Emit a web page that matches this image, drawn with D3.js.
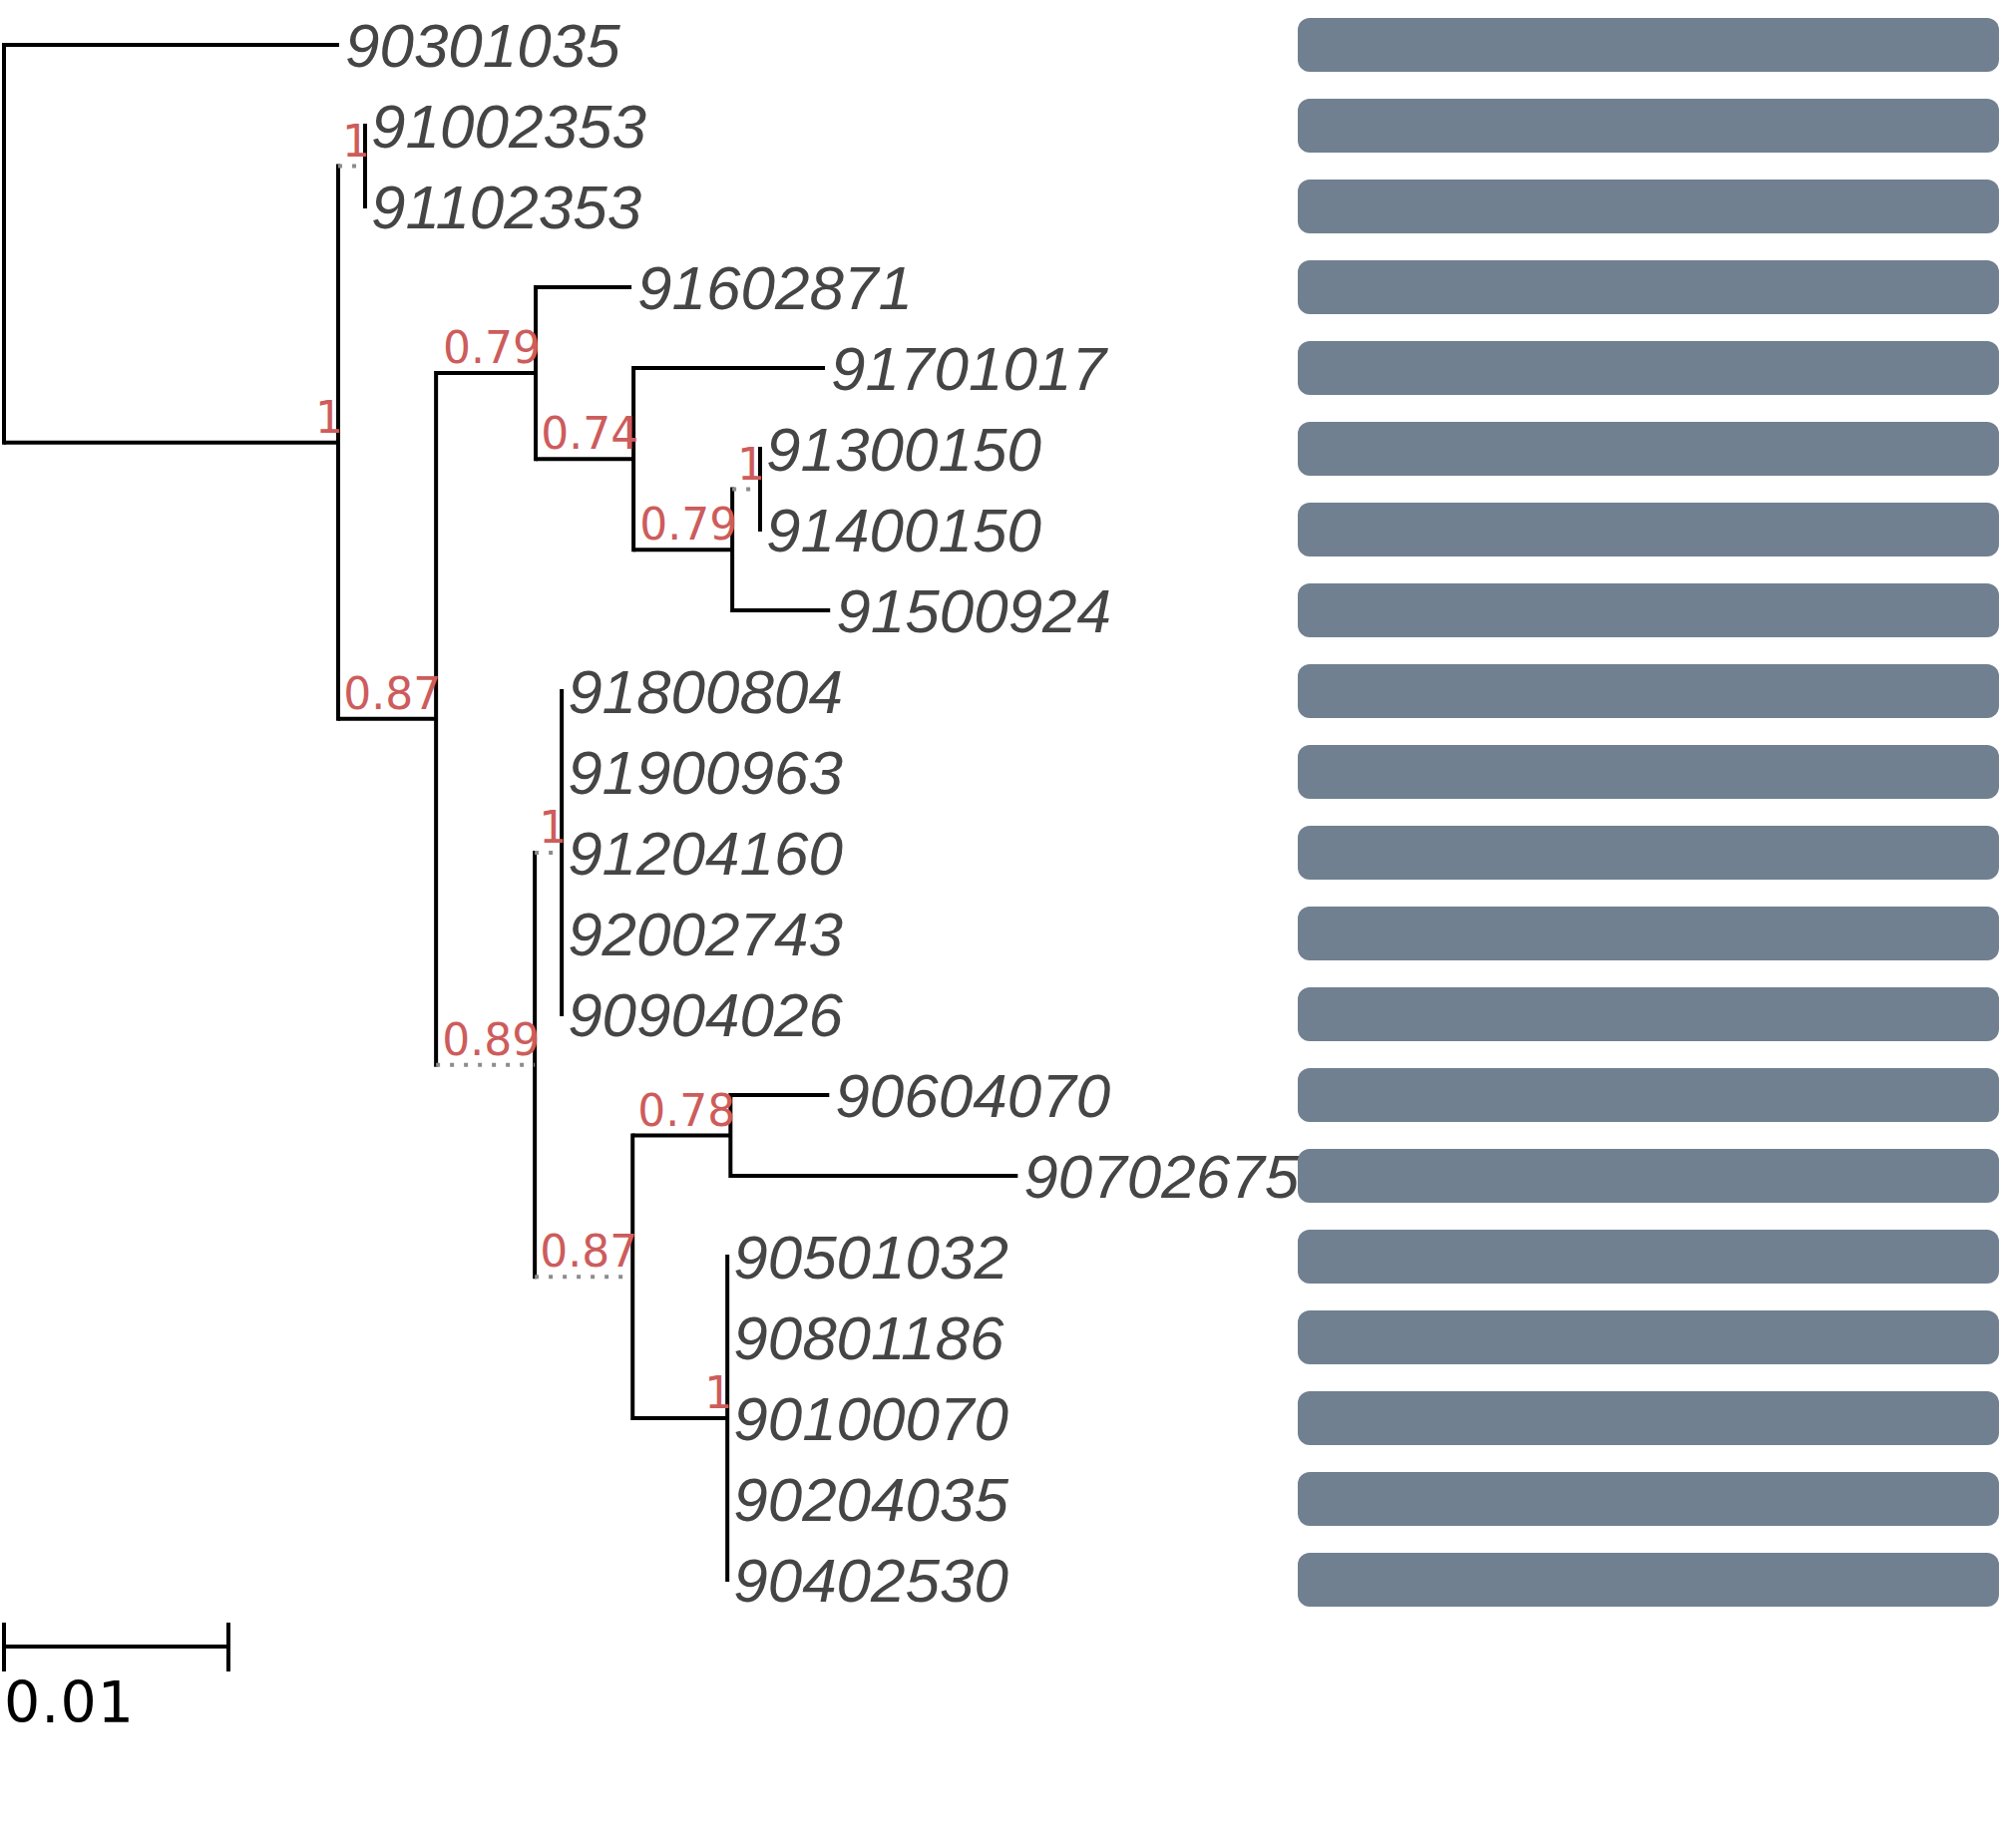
<!DOCTYPE html>
<html>
<head>
<meta charset="utf-8">
<script src="https://cdn.jsdelivr.net/npm/d3@7"></script>
<style>
  body { margin: 0; background: #fff; }
</style>
</head>
<body>
<div id="chart"></div>
<script>
// tree as parallel arrays: node id, parent id, branch length
let nodeIds = ['root', '90301035', 'A', 'B', '91002353', '91102353', 'C', 'D', '91602871', 'F',
  '91701017', 'G', 'H', '91300150', '91400150', '91500924', 'E', 'I', '91800804', '91900963',
  '91204160', '92002743', '90904026', 'J', 'K', '90604070', '90702675', 'M', '90501032',
  '90801186', '90100070', '90204035', '90402530']
let parentIds = ['', 'root', 'root', 'A', 'B', 'B', 'A', 'C', 'D', 'D',
  'F', 'F', 'G', 'H', 'H', 'G', 'C', 'E', 'I', 'I',
  'I', 'I', 'I', 'E', 'J', 'K', 'K', 'J', 'M',
  'M', 'M', 'M', 'M']
let branchLengths = [0, 0.01493, 0.01489, 0.0012, 0, 0, 0.00436, 0.00444, 0.00427, 0.00436,
  0.00853, 0.0044, 0.00124, 0, 0, 0.00436, 0.0044, 0.0012, 0, 0,
  0, 0, 0, 0.00436, 0.00436, 0.0044, 0.0128, 0.00422, 0,
  0, 0, 0, 0]

// support values on internal nodes
let supportNodes = ['A', 'B', 'C', 'D', 'F', 'G', 'H', 'E', 'I', 'J', 'K', 'M']
let supportLabels = ['1', '1', '0.87', '0.79', '0.74', '0.79', '1', '0.89', '1', '0.87', '0.78', '1']

// branches drawn dotted
let dottedNodes = ['B', 'H', 'E', 'I', 'J']

// bar panel, one value per tip
let barValues = [1, 1, 1, 1, 1, 1, 1, 1, 1, 1, 1, 1, 1, 1, 1, 1, 1, 1, 1, 1]

let scaleBarLength = 0.01
let scaleBarLabel = '0.01'

let width = 2007
let height = 1853

let svg = d3.select('#chart').append('svg')
  .attr('width', width)
  .attr('height', height)
  .style('background', '#fff')

let table = nodeIds.map((id, i) => ({id: id, parent: parentIds[i], len: branchLengths[i]}))
let root = d3.stratify().id(d => d.id).parentId(d => d.parent)(table)

// cumulative distance from root
root.eachBefore(d => { d.dist = d.parent ? d.parent.dist + d.data.len : 0 })

let leaves = root.leaves()
let leafNames = leaves.map(d => d.id)

let x = d3.scaleLinear().domain([0, 0.01]).range([4, 229])
let y = d3.scalePoint().domain(leafNames).range([45, 1584])

root.eachAfter(d => {
  if (d.children) {
    d.y = (d.children[0].y + d.children[d.children.length - 1].y) / 2
  } else {
    d.y = y(d.id)
  }
})

let treeG = svg.append('g')

// verticals
treeG.selectAll('.vline')
  .data(root.descendants().filter(d => d.children))
  .join('line')
  .attr('class', 'vline')
  .attr('x1', d => x(d.dist))
  .attr('x2', d => x(d.dist))
  .attr('y1', d => d.children[0].y - 2)
  .attr('y2', d => d.children[d.children.length - 1].y + 2)
  .attr('stroke', '#000')
  .attr('stroke-width', 4)

// horizontals
treeG.selectAll('.hline')
  .data(root.descendants().filter(d => d.parent && d.data.len > 0))
  .join('line')
  .attr('class', 'hline')
  .attr('x1', d => x(d.parent.dist))
  .attr('x2', d => x(d.dist))
  .attr('y1', d => d.y)
  .attr('y2', d => d.y)
  .attr('stroke', d => dottedNodes.includes(d.id) ? '#8c8c8c' : '#000')
  .attr('stroke-width', 4)
  .attr('stroke-dasharray', d => dottedNodes.includes(d.id) ? '4,10' : null)

// support labels
treeG.selectAll('.support')
  .data(root.descendants().filter(d => supportNodes.includes(d.id)))
  .join('text')
  .attr('class', 'support')
  .attr('x', d => x(d.dist) + 5)
  .attr('y', d => d.y - 10)
  .attr('text-anchor', 'end')
  .attr('font-family', 'DejaVu Sans')
  .attr('font-size', 44)
  .attr('fill', '#cd5c5c')
  .text(d => supportLabels[supportNodes.indexOf(d.id)])

// tip labels
treeG.selectAll('.tip')
  .data(leaves)
  .join('text')
  .attr('class', 'tip')
  .attr('x', d => x(d.dist) + 6)
  .attr('y', d => d.y)
  .attr('dy', '0.35em')
  .attr('font-family', 'Liberation Sans')
  .attr('font-style', 'italic')
  .attr('font-size', 62)
  .attr('fill', '#454545')
  .text(d => d.id)

// bars
let xBar = d3.scaleLinear().domain([0, 1]).range([1301, 2004])
svg.selectAll('.bar')
  .data(leafNames)
  .join('rect')
  .attr('class', 'bar')
  .attr('x', xBar(0))
  .attr('y', d => y(d) - 27)
  .attr('width', (d, i) => xBar(barValues[i]) - xBar(0))
  .attr('height', 54)
  .attr('rx', 12)
  .attr('fill', '#708090')

// scale bar
let sb = svg.append('g')
sb.append('line')
  .attr('x1', x(0)).attr('x2', x(scaleBarLength))
  .attr('y1', 1651).attr('y2', 1651)
  .attr('stroke', '#000').attr('stroke-width', 4)
sb.selectAll('.tick')
  .data([0, scaleBarLength])
  .join('line')
  .attr('x1', d => x(d)).attr('x2', d => x(d))
  .attr('y1', 1627).attr('y2', 1676)
  .attr('stroke', '#000').attr('stroke-width', 4)
sb.append('text')
  .attr('x', x(0))
  .attr('y', 1727)
  .attr('font-family', 'DejaVu Sans')
  .attr('font-size', 57)
  .attr('letter-spacing', 1)
  .attr('fill', '#000')
  .text(scaleBarLabel)
</script>
</body>
</html>
